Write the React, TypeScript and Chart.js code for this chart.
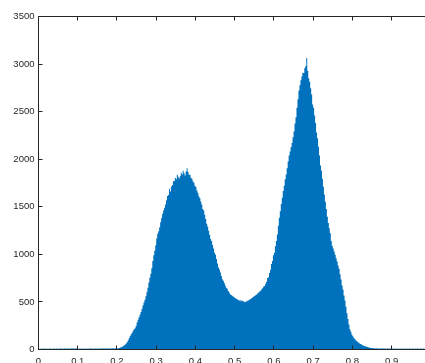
import React, { useEffect, useRef } from 'react';
import { Chart, registerables } from 'chart.js';

Chart.register(...registerables);

// Histogram bins: left edge of first bin and bin width
const binStart = 0;
const binWidth = 0.0025;

// Low counts in the left tail (bins 0 .. 0.2)
const leftTail: number[] = [
  8, 9, 9, 8, 10, 9, 9, 10, 8, 9, 9, 10, 9, 8, 9, 10, 9, 9, 10, 9,
  9, 10, 10, 9, 10, 9, 10, 10, 9, 10, 10, 9, 10, 11, 10, 10, 11, 10, 11, 12,
  8, 9, 10, 9, 9, 10, 9, 10, 9, 9, 10, 9, 10, 10, 9, 10, 9, 10, 10, 9,
  10, 10, 9, 10, 11, 10, 10, 11, 10, 11, 10, 11, 11, 10, 11, 12, 11, 11, 12, 12,
];

// Main body of the histogram (0.2 .. 0.855)
const body: number[] = [
  11, 13, 16, 20, 23, 29, 36, 44, 52, 64,
  80, 98, 121, 141, 159, 177, 196, 214, 224, 248,
  284, 314, 338, 366, 394, 426, 462, 494, 523, 559,
  601, 649, 705, 755, 795, 853, 931, 991, 1037, 1095,
  1167, 1217, 1244, 1286, 1338, 1382, 1426, 1462, 1489, 1525,
  1568, 1614, 1625, 1690, 1660, 1712, 1730, 1768, 1772, 1805,
  1790, 1838, 1815, 1796, 1822, 1858, 1840, 1878, 1852, 1830,
  1870, 1905, 1868, 1840, 1835, 1805, 1795, 1768, 1752, 1722,
  1708, 1672, 1648, 1610, 1592, 1555, 1525, 1478, 1462, 1415,
  1372, 1322, 1292, 1248, 1205, 1162, 1140, 1098, 1062, 1018,
  995, 952, 905, 862, 842, 808, 772, 738, 722, 698,
  672, 650, 638, 615, 598, 580, 572, 566, 558, 548,
  540, 534, 530, 520, 512, 524, 506, 514, 510, 502,
  496, 505, 508, 516, 518, 528, 532, 542, 548, 556,
  562, 574, 578, 590, 598, 610, 618, 632, 645, 662,
  668, 690, 712, 752, 760, 805, 838, 898, 930, 990,
  1018, 1085, 1140, 1210, 1300, 1385, 1452, 1530, 1595, 1665,
  1720, 1790, 1840, 1905, 1975, 2040, 2080, 2125, 2170, 2232,
  2290, 2375, 2440, 2540, 2630, 2722, 2778, 2830, 2870, 2910,
  2905, 2960, 2980, 3065, 2930, 2850, 2815, 2745, 2680, 2575,
  2540, 2460, 2380, 2280, 2220, 2130, 2040, 1935, 1880, 1795,
  1710, 1628, 1552, 1478, 1395, 1330, 1275, 1222, 1140, 1090,
  1062, 1030, 996, 960, 925, 882, 850, 790, 735, 672,
  630, 568, 515, 450, 382, 320, 262, 214, 186, 158,
  140, 124, 110, 98, 90, 80, 71, 63, 57, 51,
  45, 39, 36, 32, 29, 25, 22, 20, 17, 15,
  14, 12,
];

// Low counts in the right tail (0.855 .. 1)
const rightTail: number[] = [
  12, 11, 12, 11, 11, 10, 11, 10, 10, 11, 10, 10, 9, 10, 10, 9, 10, 9, 9, 10,
  9, 10, 9, 9, 10, 9, 9, 10, 9, 9, 10, 9, 9, 10, 9, 9, 10, 9, 9, 10,
  9, 9, 10, 9, 10, 9, 9, 10, 9, 9, 10, 9, 9, 10, 9, 9, 10, 9,
];

const counts: number[] = [...leftTail, ...body, ...rightTail];

const xTicks: number[] = [0, 0.1, 0.2, 0.3, 0.4, 0.5, 0.6, 0.7, 0.8, 0.9, 1];
const yTicks: number[] = [0, 500, 1000, 1500, 2000, 2500, 3000, 3500];

const BLUE = '#0072BD';
const AXIS = '#262626';
const FONT = 'Liberation Sans, Arial, Helvetica, sans-serif';

const axesBox = {
  id: 'axesBox',
  afterDraw(chart: any) {
    const { ctx, chartArea: a, scales } = chart;
    const xs = scales.x;
    const ys = scales.y;
    const L = Math.floor(a.left) + 0.5;
    const R = Math.floor(a.right) + 0.5;
    const T = Math.floor(a.top) + 0.5;
    const B = Math.floor(a.bottom) + 0.5;
    const tl = 4;
    ctx.save();
    ctx.strokeStyle = AXIS;
    ctx.lineWidth = 1;
    ctx.beginPath();
    ctx.rect(L, T, R - L, B - T);
    for (const t of xs.ticks) {
      const p = Math.floor(xs.getPixelForValue(t.value)) + 0.5;
      ctx.moveTo(p, B);
      ctx.lineTo(p, B - tl);
      ctx.moveTo(p, T);
      ctx.lineTo(p, T + tl);
    }
    for (const t of ys.ticks) {
      const p = Math.floor(ys.getPixelForValue(t.value)) + 0.5;
      ctx.moveTo(L, p);
      ctx.lineTo(L + tl, p);
      ctx.moveTo(R, p);
      ctx.lineTo(R - tl, p);
    }
    ctx.stroke();
    ctx.restore();
  },
};

export default function App() {
  const ref = useRef<HTMLCanvasElement>(null);

  useEffect(() => {
    const points = counts.map((c, i) => ({ x: binStart + i * binWidth, y: c }));
    points.push({ x: binStart + counts.length * binWidth, y: counts[counts.length - 1] });

    const chart = new Chart(ref.current as HTMLCanvasElement, {
      type: 'line',
      data: {
        datasets: [
          {
            data: points,
            stepped: 'before',
            fill: 'origin',
            backgroundColor: BLUE,
            borderColor: 'rgba(0,0,0,0)',
            borderWidth: 0,
            pointRadius: 0,
            tension: 0,
          } as any,
        ],
      },
      options: {
        responsive: false,
        animation: false,
        devicePixelRatio: 1,
        layout: { padding: { top: 16.5, right: 8.5, left: 0, bottom: 0 } },
        plugins: { legend: { display: false }, tooltip: { enabled: false } },
        scales: {
          x: {
            type: 'linear',
            min: 0,
            max: 1,
            grid: { display: false, drawTicks: false },
            border: { display: false },
            ticks: {
              autoSkip: false,
              maxRotation: 0,
              padding: 6.5,
              color: AXIS,
              font: { family: FONT, size: 9.5 },
              callback: (v: any) => Number(v).toFixed(1).replace(/\.0$/, ''),
            },
            afterBuildTicks: (s: any) => {
              s.ticks = xTicks.map((v) => ({ value: v }));
            },
            afterFit: (s: any) => {
              s.height = 13.5;
            },
          },
          y: {
            type: 'linear',
            min: 0,
            max: 3500,
            grid: { display: false, drawTicks: false },
            border: { display: false },
            ticks: {
              autoSkip: false,
              padding: 4,
              color: AXIS,
              font: { family: FONT, size: 9.5 },
              callback: (v: any) => String(v),
            },
            afterBuildTicks: (s: any) => {
              s.ticks = yTicks.map((v) => ({ value: v }));
            },
            afterFit: (s: any) => {
              s.width = 38.5;
            },
          },
        },
      } as any,
      plugins: [axesBox],
    });
    return () => chart.destroy();
  }, []);

  return (
    <div
      style={{
        position: 'fixed',
        left: 0,
        top: 0,
        width: 425,
        height: 363,
        overflow: 'hidden',
        background: '#fff',
      }}
    >
      <canvas ref={ref} width={440} height={363} style={{ display: 'block' }} />
    </div>
  );
}
